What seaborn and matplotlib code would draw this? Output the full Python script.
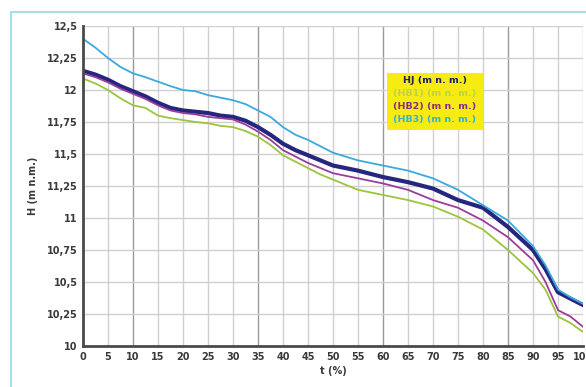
import matplotlib
matplotlib.use("Agg")
import matplotlib.pyplot as plt
from matplotlib.patches import Rectangle
from matplotlib.ticker import FuncFormatter
import seaborn as sns
import pandas as pd

# Duration curves of water level (m a.s.l.) versus time exceedance (%)
t_pct = [0, 2.5, 5, 7.5, 10, 12.5, 15, 17.5, 20, 22.5, 25, 27.5, 30, 32.5, 35, 37.5, 40, 42.5,
         45, 47.5, 50, 55, 60, 65, 70, 75, 80, 85, 90, 92.5, 95, 97.5, 100]
hj = [12.15, 12.12, 12.08, 12.03, 11.99, 11.95, 11.90, 11.86, 11.84, 11.83, 11.82, 11.80, 11.79,
      11.76, 11.71, 11.65, 11.58, 11.53, 11.49, 11.45, 11.41, 11.37, 11.32, 11.28, 11.23, 11.14,
      11.08, 10.93, 10.75, 10.60, 10.42, 10.37, 10.32]
hb1 = [12.09, 12.05, 12.00, 11.935, 11.88, 11.86, 11.80, 11.78, 11.765, 11.75, 11.74, 11.72, 11.71,
       11.68, 11.635, 11.57, 11.49, 11.44, 11.39, 11.34, 11.30, 11.22, 11.18, 11.14, 11.09, 11.01,
       10.91, 10.75, 10.57, 10.44, 10.23, 10.18, 10.11]
hb2 = [12.13, 12.10, 12.06, 12.01, 11.97, 11.93, 11.88, 11.84, 11.82, 11.81, 11.79, 11.78, 11.77,
       11.73, 11.675, 11.61, 11.53, 11.48, 11.43, 11.39, 11.35, 11.31, 11.27, 11.22, 11.14, 11.08,
       10.98, 10.85, 10.67, 10.50, 10.28, 10.23, 10.15]
hb3 = [12.40, 12.33, 12.25, 12.18, 12.13, 12.10, 12.065, 12.03, 12.00, 11.99, 11.96, 11.94, 11.92,
       11.89, 11.84, 11.79, 11.71, 11.65, 11.61, 11.56, 11.51, 11.45, 11.41, 11.37, 11.31, 11.22,
       11.10, 10.98, 10.78, 10.63, 10.44, 10.38, 10.33]

series_names = ["HJ", "HB1", "HB2", "HB3"]
legend_labels = ["HJ (m n. m.)", "(HB1) (m n. m.)", "(HB2) (m n. m.)", "(HB3) (m n. m.)"]
colors = {"HJ": "#26267e", "HB1": "#9cc43e", "HB2": "#9a3c9c", "HB3": "#3aa9de"}
widths = {"HJ": 3.0, "HB1": 1.3, "HB2": 1.3, "HB3": 1.3}
text_colors = ["#1c1c6e", "#bcd24a", "#8e2a8a", "#35b2d6"]

x_ticks = list(range(0, 101, 5))
y_ticks = [10, 10.25, 10.5, 10.75, 11, 11.25, 11.5, 11.75, 12, 12.25, 12.5]

df = pd.DataFrame({
    "t": t_pct * 4,
    "H": hj + hb1 + hb2 + hb3,
    "serie": [n for n in series_names for _ in t_pct],
})

sns.set_style("white")
plt.rcParams["font.family"] = ["DejaVu Sans"]

fig = plt.figure(figsize=(5.86, 3.87), dpi=100)
ax = fig.add_axes([83 / 586, 41 / 387, 500 / 586, 320 / 387])

# light blue frame around the chart area
fig.patches.append(Rectangle((11 / 586, -0.1), 1.2, (387 - 12) / 387 + 0.1,
                             transform=fig.transFigure, fill=False,
                             edgecolor="#a9dbe8", linewidth=1.5, zorder=0))

for name in series_names:
    sns.lineplot(data=df[df["serie"] == name], x="t", y="H", ax=ax,
                 color=colors[name], linewidth=widths[name], legend=False,
                 zorder=3 if name == "HJ" else 4)

ax.set_xlim(0, 100)
ax.set_ylim(10, 12.5)
ax.set_xticks(x_ticks)
ax.set_yticks(y_ticks)

# grid: every 5 % lightly, every 25 % from 10 a bit darker
for xv in x_ticks:
    strong = xv in (10, 35, 60, 85)
    ax.axvline(xv, color="#9a9a9a" if strong else "#d0d0d0",
               linewidth=1.0, zorder=1)
for yv in y_ticks:
    ax.axhline(yv, color="#d0d0d0", linewidth=1.0, zorder=1)

for side in ("top", "right"):
    ax.spines[side].set_visible(False)
for side in ("left", "bottom"):
    ax.spines[side].set_color("#4a4a4a")
    ax.spines[side].set_linewidth(2.0)
    ax.spines[side].set_zorder(5)

fmt = lambda v, p: (("%g" % v).replace(".", ","))
ax.yaxis.set_major_formatter(FuncFormatter(fmt))
ax.tick_params(axis="both", direction="in", length=3, width=1, color="#4a4a4a",
               labelsize=7, labelcolor="#3a3a3a", pad=4)
for lab in ax.get_xticklabels() + ax.get_yticklabels():
    lab.set_fontweight("bold")

ax.set_xlabel("t (%)", fontsize=7, fontweight="bold", color="#3a3a3a", labelpad=3)
ax.set_ylabel("H (m n.m.)", fontsize=7, fontweight="bold", color="#3a3a3a", labelpad=6)

# legend box
ax.add_patch(Rectangle((0.608, 0.675), 0.192, 0.178, transform=ax.transAxes,
                       facecolor="#f7ec12", edgecolor="none", zorder=6))
for i, (lab, tc) in enumerate(zip(legend_labels, text_colors)):
    ax.text(0.704, 0.83 - i * 0.041, lab, transform=ax.transAxes, ha="center",
            va="center", fontsize=6.8, fontweight="bold", color=tc, zorder=7)

fig.savefig("out.png", dpi=100)
